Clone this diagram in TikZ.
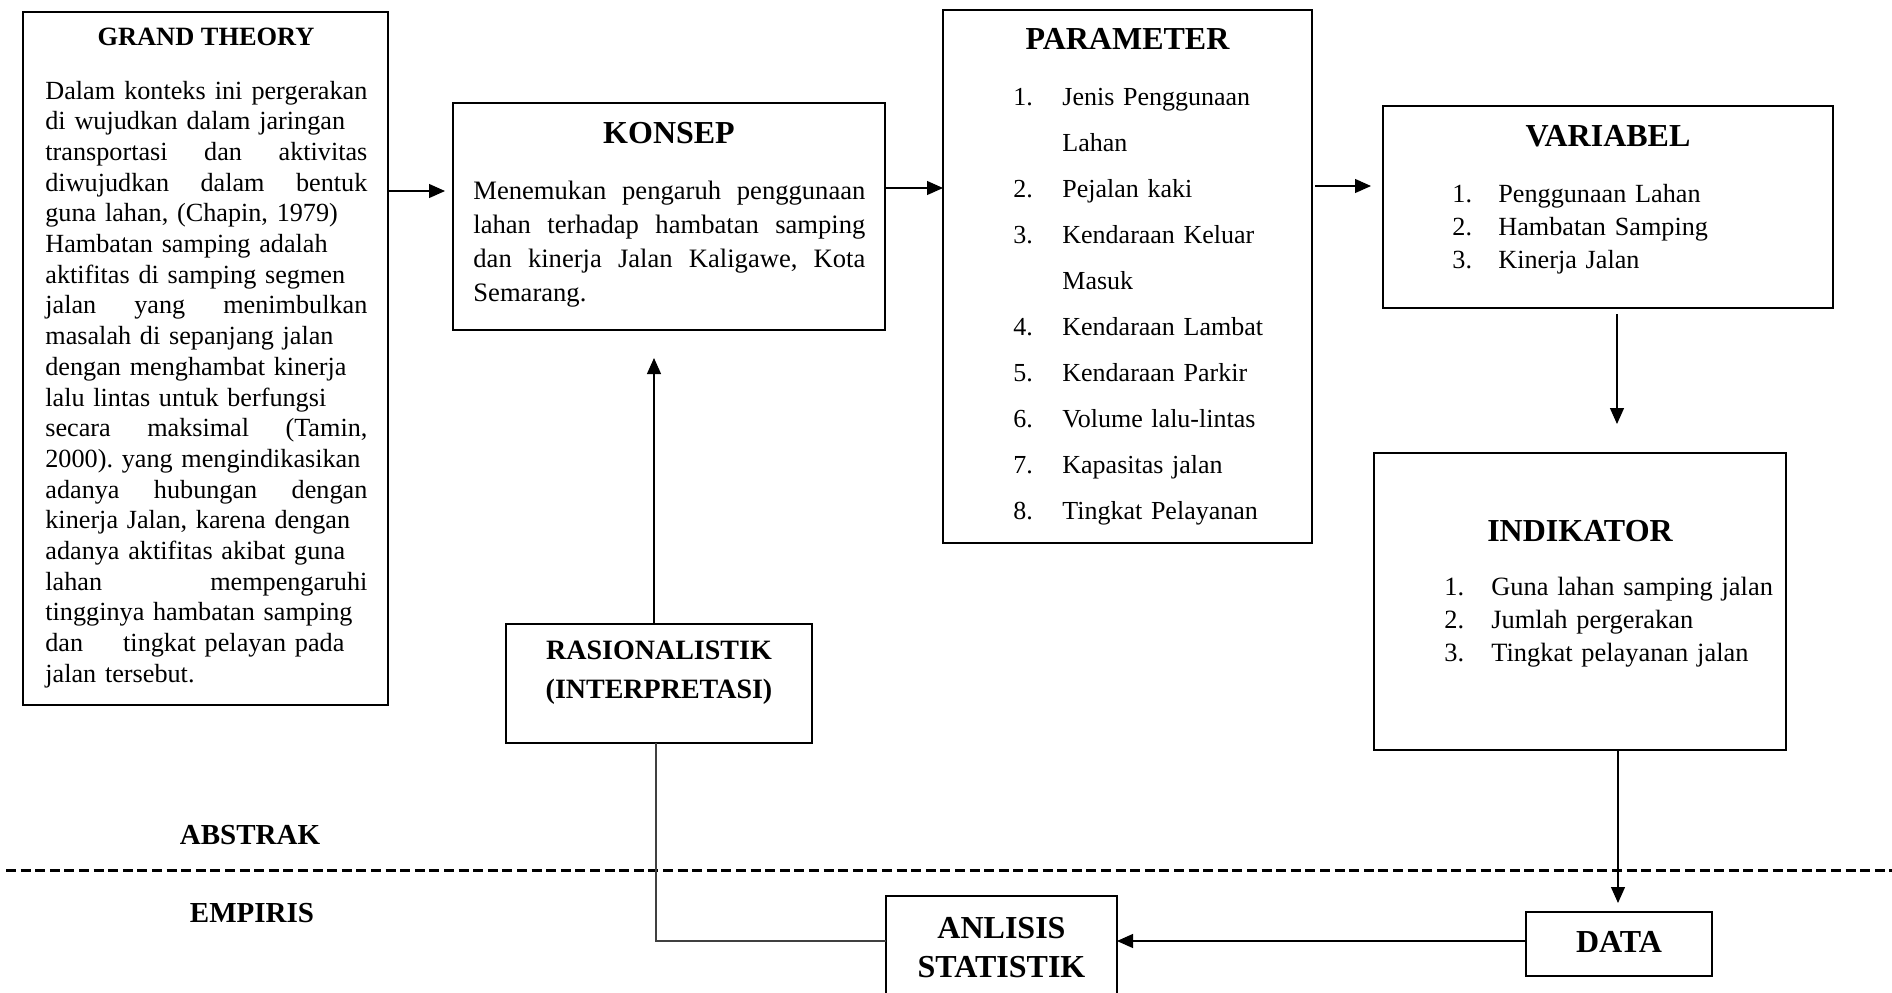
\documentclass[tikz,border=0pt]{standalone}
\usepackage{fontspec}
\setmainfont{Liberation Serif}
\usetikzlibrary{arrows.meta}
\newcommand\gtj[1]{\leavevmode\hbox to 161pt{#1}}
\newcommand\kj[1]{\leavevmode\hbox to 196pt{#1}}
\begin{document}
\frenchspacing
\hyphenpenalty=10000
\begin{tikzpicture}[x=0.5pt,y=-0.5pt,
  box/.style={draw, line width=1pt, inner sep=0pt, outer sep=0pt},
  arr/.style={-{Triangle[length=8pt,width=7pt]}, line width=0.6pt},
  ttl/.style={font=\bfseries\fontsize{16}{19}\selectfont, inner sep=0pt},
  body/.style={inner sep=0pt, anchor=base west, align=left, text width=200pt},
  lbl/.style={font=\bfseries\fontsize{14.5}{17}\selectfont, inner sep=0pt}]
\clip (0,0) rectangle (1892,992);
\fill[white] (0,0) rectangle (1892,992);

% boxes
\node[box, minimum width=182.5pt, minimum height=346.5pt] (gt) at (205.5,358.5) {};
\node[box, minimum width=216pt, minimum height=113.5pt] (konsep) at (669,216.5) {};
\node[box, minimum width=184.5pt, minimum height=266.5pt] (param) at (1127.5,276.5) {};
\node[box, minimum width=225pt, minimum height=101pt] (var) at (1608,207) {};
\node[box, minimum width=206pt, minimum height=148.5pt] (ind) at (1580,601.5) {};
\node[box, minimum width=153pt, minimum height=59.5pt] (ras) at (659,683.5) {};
\node[box, minimum width=115.5pt, minimum height=57pt] (anl) at (1001.5,953) {};
\node[box, minimum width=93pt, minimum height=32pt] (data) at (1619,944) {};

% grand theory
\node[ttl, font=\bfseries\fontsize{13.2}{15}\selectfont] (gttitle) at (206,37) {GRAND THEORY};
\node[body, font=\fontsize{13.1}{15.35}\selectfont] (gtbody) at (45,99) {%
\gtj{Dalam\hfill konteks\hfill ini\hfill pergerakan}\\
di wujudkan dalam jaringan\\
\gtj{transportasi\hfill dan\hfill aktivitas}\\
\gtj{diwujudkan\hfill dalam\hfill bentuk}\\
guna lahan, (Chapin, 1979)\\
Hambatan samping adalah\\
aktifitas di samping segmen\\
\gtj{jalan\hfill yang\hfill menimbulkan}\\
masalah di sepanjang jalan\\
dengan menghambat kinerja\\
lalu lintas untuk berfungsi\\
\gtj{secara\hfill maksimal\hfill (Tamin,}\\
2000). yang mengindikasikan\\
\gtj{adanya\hfill hubungan\hfill dengan}\\
kinerja Jalan, karena dengan\\
adanya aktifitas akibat guna\\
\gtj{lahan\hfill mempengaruhi}\\
tingginya hambatan samping\\
dan\hspace{20pt}tingkat pelayan pada\\
jalan tersebut.};

% konsep
\node[ttl] (ktitle) at (669,133) {KONSEP};
\node[body, font=\fontsize{13.3}{17}\selectfont] (kbody) at (473,199) {%
\kj{Menemukan\hfill pengaruh\hfill penggunaan}\\
\kj{lahan\hfill terhadap\hfill hambatan\hfill samping}\\
\kj{dan\hfill kinerja\hfill Jalan\hfill Kaligawe,\hfill Kota}\\
Semarang.};

% parameter
\node[ttl] (ptitle) at (1127.5,39) {PARAMETER};
\node[body, font=\fontsize{13}{23}\selectfont] (pbody) at (1013,105) {%
\makebox[24.5pt][l]{1.}Jenis Penggunaan\\
\hspace*{24.5pt}Lahan\\
\makebox[24.5pt][l]{2.}Pejalan kaki\\
\makebox[24.5pt][l]{3.}Kendaraan Keluar\\
\hspace*{24.5pt}Masuk\\
\makebox[24.5pt][l]{4.}Kendaraan Lambat\\
\makebox[24.5pt][l]{5.}Kendaraan Parkir\\
\makebox[24.5pt][l]{6.}Volume lalu-lintas\\
\makebox[24.5pt][l]{7.}Kapasitas jalan\\
\makebox[24.5pt][l]{8.}Tingkat Pelayanan};

% variabel
\node[ttl] (vtitle) at (1608,136) {VARIABEL};
\node[body, font=\fontsize{13.1}{16.5}\selectfont] (vbody) at (1452,202) {%
\makebox[23pt][l]{1.}Penggunaan Lahan\\
\makebox[23pt][l]{2.}Hambatan Samping\\
\makebox[23pt][l]{3.}Kinerja Jalan};

% indikator
\node[ttl] (ititle) at (1580,531) {INDIKATOR};
\node[body, font=\fontsize{13.2}{16.5}\selectfont] (ibody) at (1444,595) {%
\makebox[23.5pt][l]{1.}Guna lahan samping jalan\\
\makebox[23.5pt][l]{2.}Jumlah pergerakan\\
\makebox[23.5pt][l]{3.}Tingkat pelayanan jalan};

% rasionalistik, analisis, data
\node[ttl, align=center, font=\bfseries\fontsize{14}{19.5}\selectfont] (rastext) at (659,673) {RASIONALISTIK\\(INTERPRETASI)};
\node[ttl, align=center, font=\bfseries\fontsize{16}{19.5}\selectfont] (anltext) at (1001.5,947.5) {ANLISIS\\STATISTIK};
\node[ttl] (datatext) at (1619,942) {DATA};

% labels
\node[lbl] (abstrak) at (250,835) {ABSTRAK};
\node[lbl] (empiris) at (252,913) {EMPIRIS};

% dashed divider
\draw[line width=1.5pt, dash pattern=on 5pt off 2.3pt] (6,870) -- (1892,870);

% connectors
\draw[arr, shorten >=4pt] (gt.east |- 0,191) -- (konsep.west |- 0,191);
\draw[arr] (konsep.east |- 0,188) -- (param.west |- 0,188);
\draw[arr, shorten <=1.5pt, shorten >=6pt] (param.east |- 0,186) -- (var.west |- 0,186);
\draw[arr, shorten <=3pt, shorten >=14.5pt] (1617,0 |- var.south) -- (1617,0 |- ind.north);
\draw[arr, shorten >=4.5pt] (1618,0 |- ind.south) -- (1618,0 |- data.north);
\draw[arr] (data.west |- 0,941) -- (anl.east |- 0,941);
\draw[line width=0.6pt, black!75] (anl.west |- 0,941) -| (656,0 |- ras.south);
\draw[arr, shorten >=14pt] (654,0 |- ras.north) -- (654,0 |- konsep.south);
\end{tikzpicture}
\end{document}
